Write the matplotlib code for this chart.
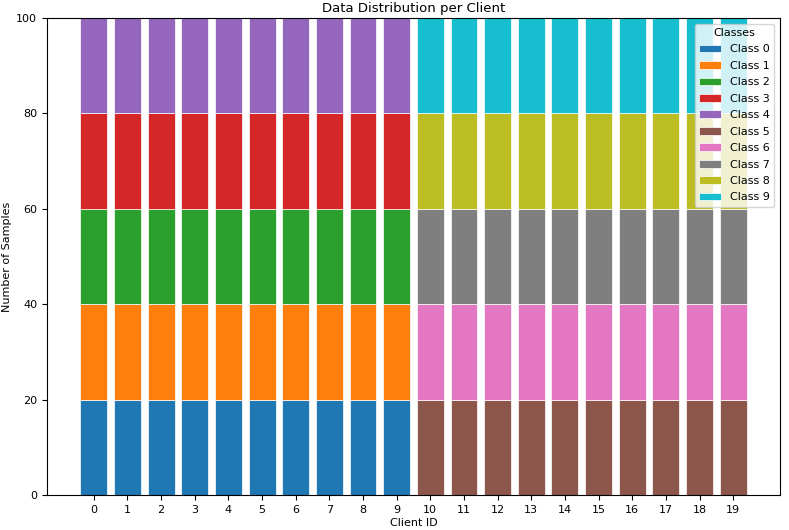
import numpy as np
import matplotlib
matplotlib.use('Agg')
import matplotlib.pyplot as plt

# Data: samples per class for each client
client_ids = list(range(20))
class_names = [f"Class {i}" for i in range(10)]
class_counts = {
    0: [20] * 10 + [0] * 10,
    1: [20] * 10 + [0] * 10,
    2: [20] * 10 + [0] * 10,
    3: [20] * 10 + [0] * 10,
    4: [20] * 10 + [0] * 10,
    5: [0] * 10 + [20] * 10,
    6: [0] * 10 + [20] * 10,
    7: [0] * 10 + [20] * 10,
    8: [0] * 10 + [20] * 10,
    9: [0] * 10 + [20] * 10,
}

plt.rcParams['font.size'] = 8

fig, ax = plt.subplots(figsize=(7.89, 5.30), dpi=100)
fig.subplots_adjust(left=47 / 789, right=780 / 789, top=1 - 18 / 530, bottom=1 - 495 / 530)

bottom = np.zeros(len(client_ids))
for c in range(10):
    vals = np.array(class_counts[c])
    ax.bar(client_ids, vals, bottom=bottom, label=class_names[c],
           color=f"C{c}", edgecolor='white', linewidth=0.5)
    bottom += vals

ax.set_xticks(client_ids)
ax.set_ylim(0, 100)
ax.set_xlabel("Client ID", labelpad=2)
ax.set_ylabel("Number of Samples", labelpad=3)
ax.set_title("Data Distribution per Client", fontsize=9.5, pad=4)
ax.legend(title="Classes", loc="upper right", labelspacing=0.58)

fig.savefig("out.png", dpi=100)
